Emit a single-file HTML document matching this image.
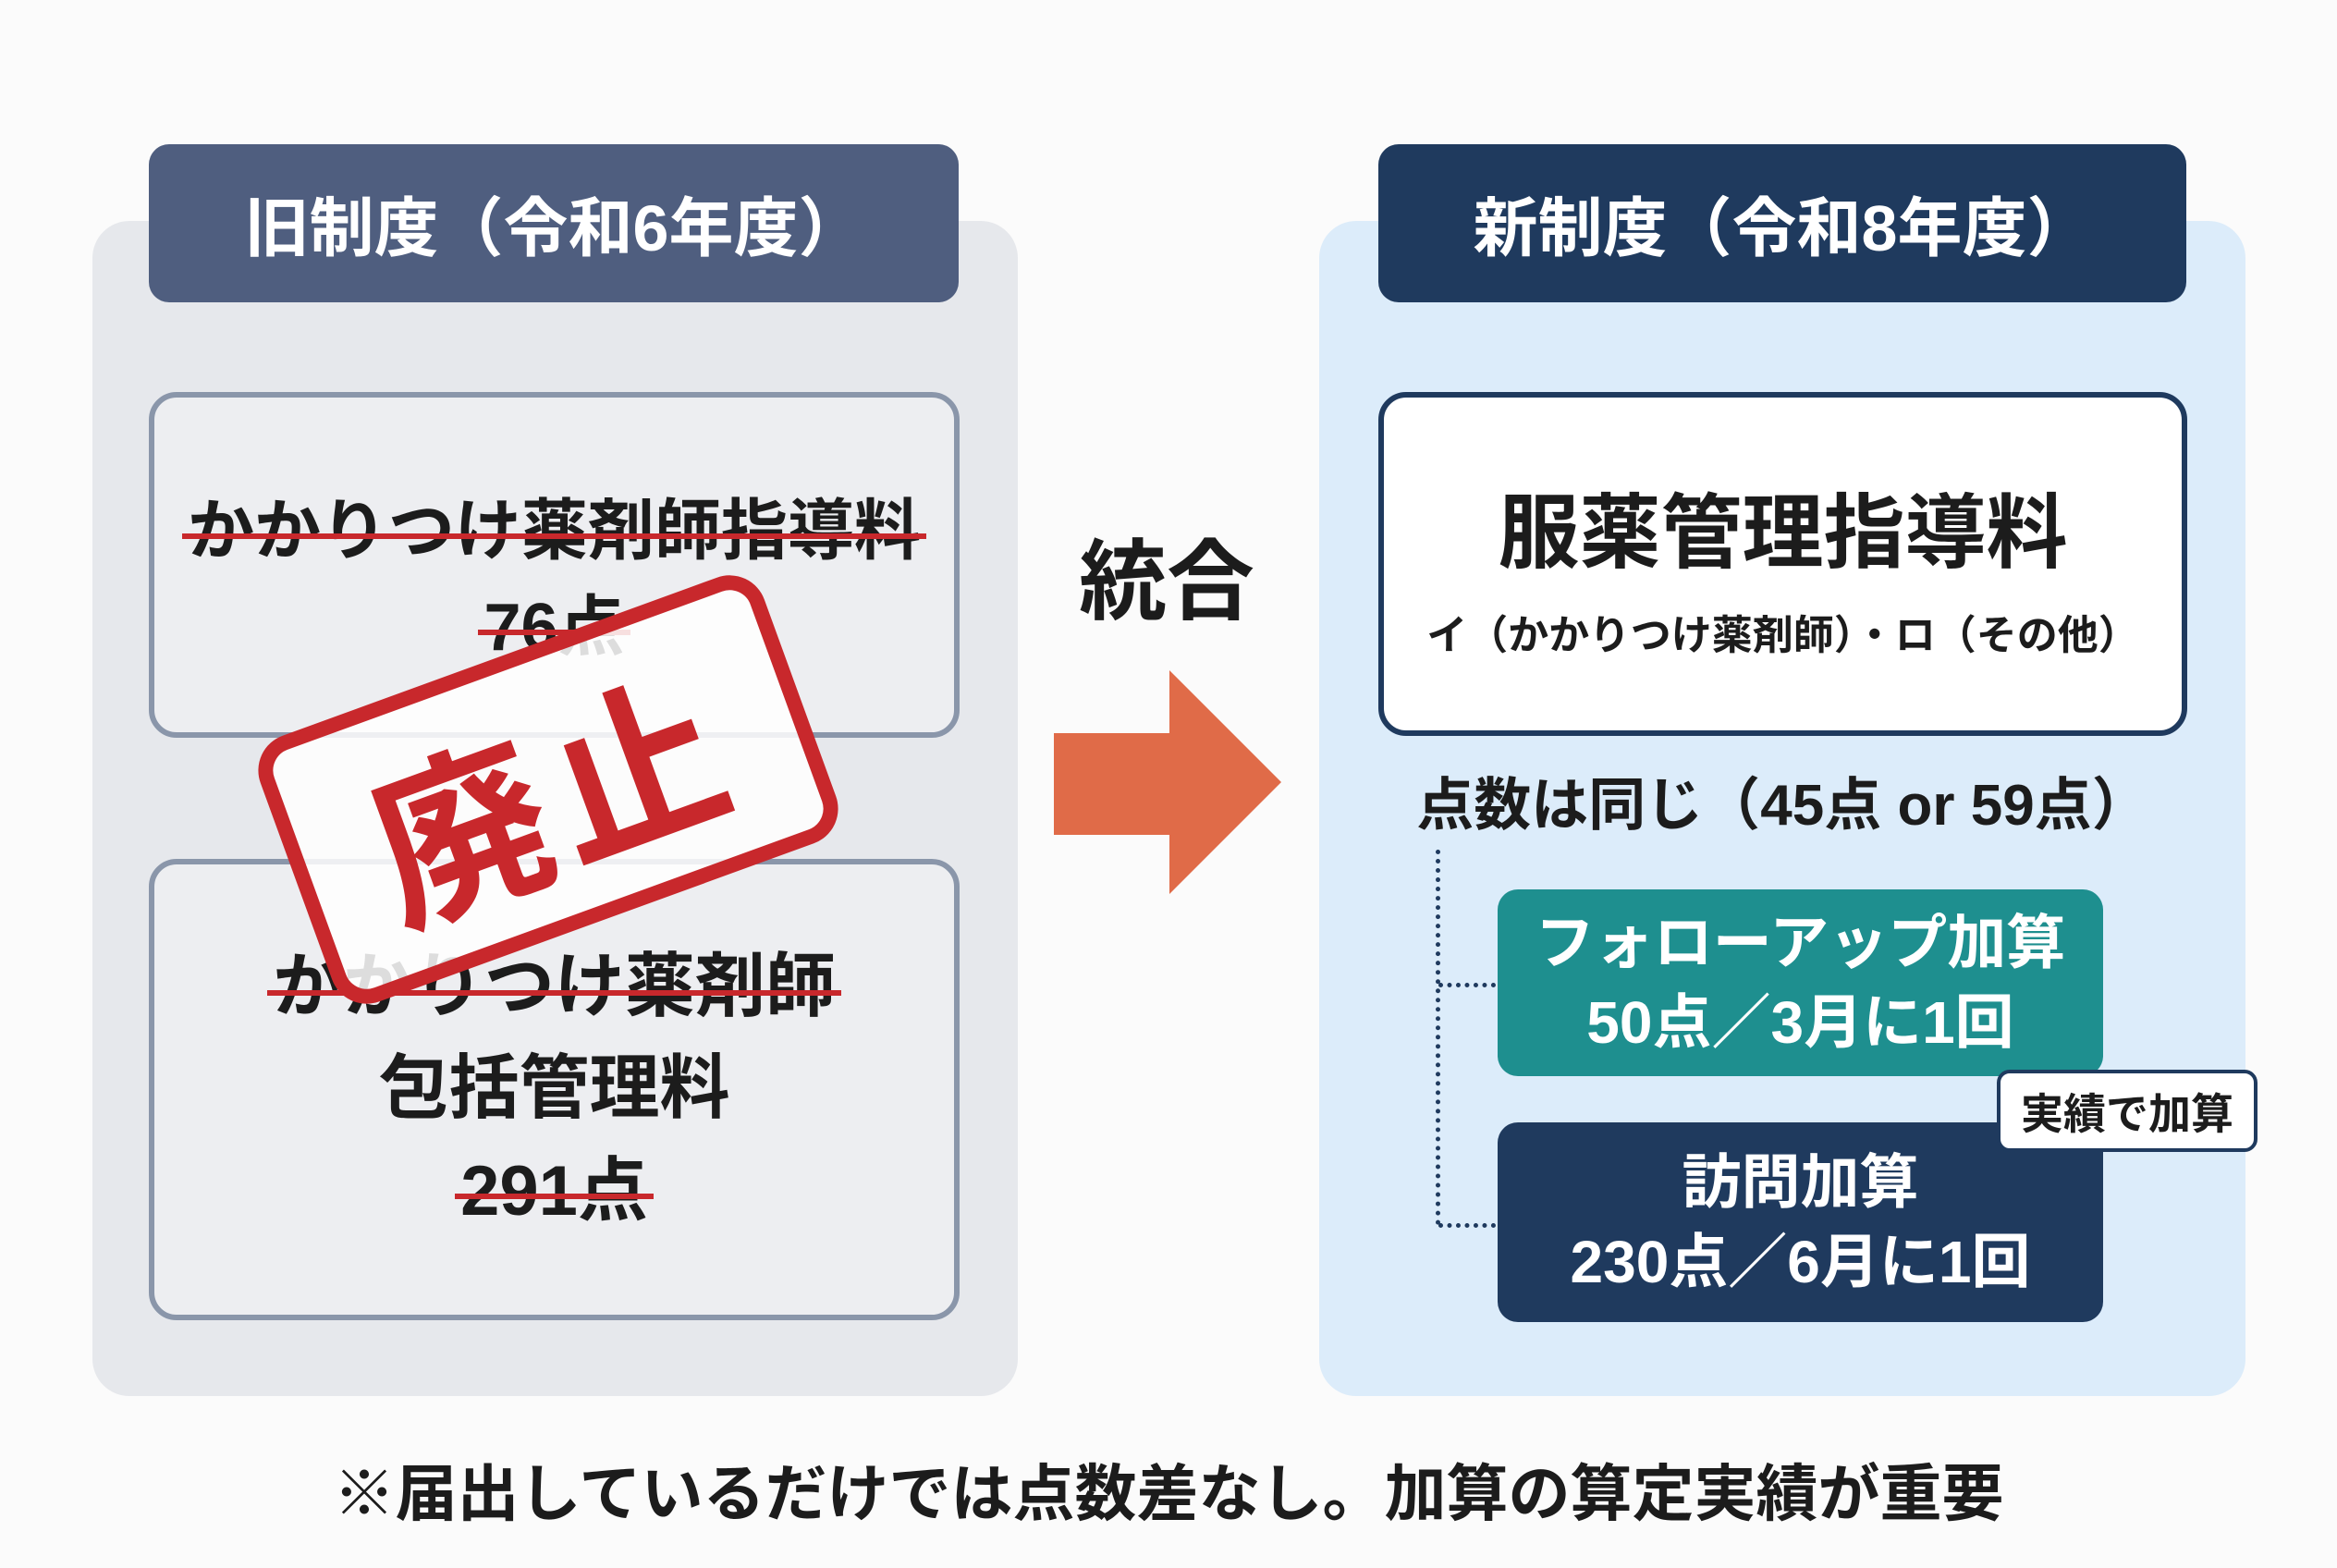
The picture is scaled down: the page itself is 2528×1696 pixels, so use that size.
<!DOCTYPE html>
<html><head><meta charset="utf-8"><style>
*{margin:0;padding:0;box-sizing:border-box}
body{width:2528px;height:1696px;background:#fbfbfb;position:relative;overflow:hidden;font-family:"Liberation Sans","Noto Sans CJK JP",sans-serif;font-weight:bold;color:#1c1c1c}
.a{position:absolute}
.c{display:flex;flex-direction:column;align-items:center;justify-content:center;text-align:center}
.s{position:relative;display:inline-block}
.s::after{content:"";position:absolute;left:-6px;right:-6px;top:52%;height:6px;background:#c8282c}
</style></head><body>
<div class="a" style="left:100px;top:239px;width:1001px;height:1271px;background:#e6e8ec;border-radius:40px"></div>
<div class="a c" style="left:161px;top:156px;width:876px;height:171px;background:#4f5e7f;border-radius:22px;color:#fff;font-size:70px">旧制度（令和6年度）</div>
<div class="a c" style="left:161px;top:424px;width:877px;height:374px;border:6px solid #8a96aa;border-radius:30px;background:#edeef1;font-size:72px;line-height:1.45;padding-top:32px">
<div><span class="s">かかりつけ薬剤師指導料</span></div><div><span class="s">76点</span></div></div>
<div class="a c" style="left:161px;top:929px;width:877px;height:499px;border:6px solid #8a96aa;border-radius:30px;background:#edeef1;font-size:76px;line-height:1.45">
<div><span class="s">かかりつけ薬剤師</span></div><div>包括管理料</div><div><span class="s">291点</span></div></div>
<div class="a c" style="left:303px;top:701px;width:580px;height:306px;border:16px solid #c8282c;border-radius:40px;background:rgba(255,255,255,.85);transform:rotate(-20deg);color:#c8282c;font-size:190px;letter-spacing:10px">廃止</div>

<div class="a" style="left:1427px;top:239px;width:1002px;height:1271px;background:#dcecfa;border-radius:40px"></div>
<div class="a c" style="left:1491px;top:156px;width:874px;height:171px;background:#1f3a5e;border-radius:22px;color:#fff;font-size:70px">新制度（令和8年度）</div>
<div class="a c" style="left:1491px;top:424px;width:875px;height:372px;border:6px solid #1f3a5e;border-radius:30px;background:#fff">
<div style="font-size:88px">服薬管理指導料</div><div style="font-size:44px;margin-top:18px">イ（かかりつけ薬剤師）・ロ（その他）</div></div>
<div class="a" style="left:1491px;top:820px;width:875px;text-align:center;font-size:62px">点数は同じ（45点 or 59点）</div>
<div class="a" style="left:1553px;top:919px;width:0;height:406px;border-left:5px dotted #1f3a5e"></div>
<div class="a" style="left:1556px;top:1063px;width:62px;border-top:5px dotted #1f3a5e"></div>
<div class="a" style="left:1556px;top:1323px;width:62px;border-top:5px dotted #1f3a5e"></div>
<div class="a c" style="left:1620px;top:962px;width:655px;height:202px;background:#1e8f8f;border-radius:22px;color:#fff;font-size:64px;line-height:1.35">フォローアップ加算<br>50点／3月に1回</div>
<div class="a c" style="left:1620px;top:1214px;width:655px;height:216px;background:#1f3a5e;border-radius:22px;color:#fff;font-size:64px;line-height:1.35">訪問加算<br>230点／6月に1回</div>
<div class="a c" style="left:2160px;top:1157px;width:282px;height:89px;background:#fff;border:4px solid #1f3a5e;border-radius:14px;font-size:46px">実績で加算</div>

<div class="a" style="left:1112px;top:553px;width:300px;text-align:center;font-size:95px;white-space:nowrap">統合</div>
<svg class="a" style="left:1140px;top:725px" width="246" height="242"><polygon points="0,68 125,68 125,0 246,121 125,242 125,178 0,178" fill="#e06b48"/></svg>

<div class="a" style="left:0;top:1562px;width:2528px;text-align:center;font-size:67px;white-space:nowrap">※届出しているだけでは点数差なし。加算の算定実績が重要</div>
</body></html>
